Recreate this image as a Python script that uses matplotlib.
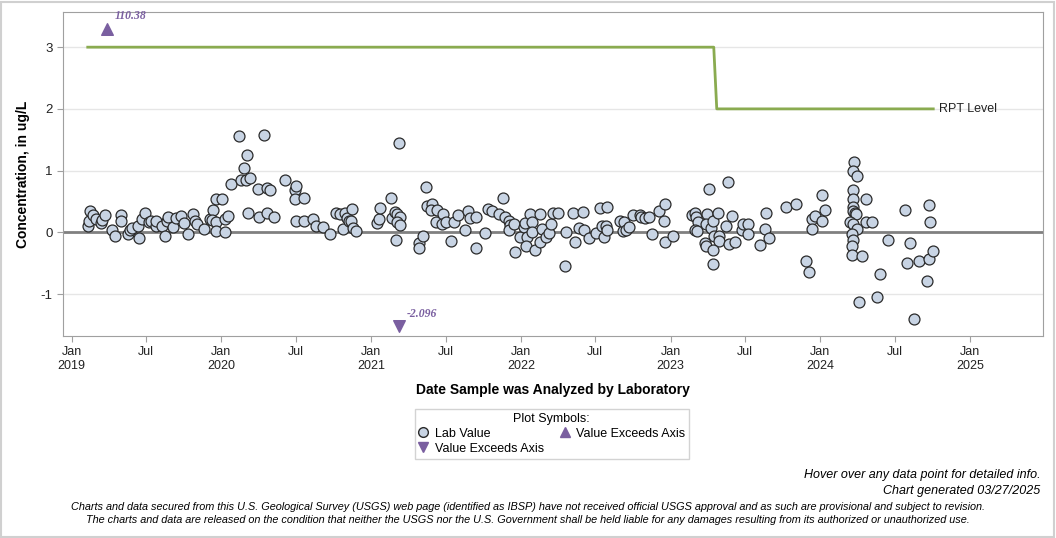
import datetime as dt
import matplotlib
matplotlib.use("Agg")
import matplotlib.pyplot as plt
import matplotlib.dates as mdates
from matplotlib.lines import Line2D
from matplotlib.patches import Rectangle

plt.rcParams['font.family'] = ['Liberation Sans', 'DejaVu Sans']
plt.rcParams['axes.unicode_minus'] = False

# sample dates as decimal years, and lab values (ug/L)
lab_year = [
    2019.109, 2019.122, 2019.115, 2019.142, 2019.160, 2019.198, 2019.202, 2019.222, 2019.267, 2019.289,
    2019.332, 2019.327, 2019.376, 2019.387, 2019.405, 2019.442, 2019.449, 2019.469, 2019.489, 2019.514,
    2019.529, 2019.561, 2019.563, 2019.603, 2019.623, 2019.639, 2019.643, 2019.676, 2019.694, 2019.729,
    2019.749, 2019.774, 2019.810, 2019.823, 2019.836, 2019.883, 2019.926, 2019.943, 2019.936, 2019.963,
    2019.961, 2019.963, 2020.003, 2020.023, 2020.043, 2020.023, 2020.063, 2020.117, 2020.148, 2020.131,
    2020.167, 2020.190, 2020.169, 2020.176, 2020.243, 2020.250, 2020.281, 2020.303, 2020.306, 2020.323,
    2020.350, 2020.424, 2020.490, 2020.500, 2020.493, 2020.497, 2020.553, 2020.553, 2020.613, 2020.631,
    2020.680, 2020.724, 2020.764, 2020.795, 2020.827, 2020.811, 2020.840, 2020.871, 2020.853, 2020.867,
    2020.877, 2020.897, 2021.040, 2021.051, 2021.062, 2021.131, 2021.142, 2021.162, 2021.174, 2021.169,
    2021.184, 2021.191, 2021.174, 2021.194, 2021.318, 2021.318, 2021.345, 2021.365, 2021.376, 2021.407,
    2021.398, 2021.438, 2021.436, 2021.478, 2021.474, 2021.501, 2021.530, 2021.556, 2021.578, 2021.625,
    2021.645, 2021.663, 2021.698, 2021.703, 2021.758, 2021.783, 2021.805, 2021.852, 2021.878, 2021.896,
    2021.919, 2021.930, 2021.919, 2021.957, 2021.959, 2021.992, 2022.023, 2022.030, 2022.041, 2022.037,
    2022.059, 2022.072, 2022.072, 2022.092, 2022.125, 2022.125, 2022.143, 2022.168, 2022.188, 2022.198,
    2022.216, 2022.245, 2022.292, 2022.298, 2022.346, 2022.359, 2022.390, 2022.412, 2022.419, 2022.452,
    2022.502, 2022.531, 2022.542, 2022.553, 2022.573, 2022.566, 2022.573, 2022.664, 2022.679, 2022.686,
    2022.699, 2022.719, 2022.746, 2022.798, 2022.802, 2022.826, 2022.853, 2022.876, 2022.920, 2022.953,
    2022.965, 2022.965, 2023.013, 2023.140, 2023.160, 2023.169, 2023.180, 2023.165, 2023.173, 2023.240,
    2023.236, 2023.256, 2023.267, 2023.280, 2023.313, 2023.291, 2023.322, 2023.322, 2023.231, 2023.236,
    2023.280, 2023.280, 2023.382, 2023.373, 2023.413, 2023.393, 2023.433, 2023.478, 2023.485, 2023.520,
    2023.516, 2023.598, 2023.627, 2023.640, 2023.660, 2023.772, 2023.834, 2023.907, 2023.921, 2023.943,
    2023.941, 2023.961, 2024.008, 2024.014, 2024.028, 2024.226, 2024.221, 2024.244, 2024.221, 2024.221,
    2024.303, 2024.217, 2024.221, 2024.230, 2024.237, 2024.199, 2024.217, 2024.244, 2024.210, 2024.221,
    2024.214, 2024.214, 2024.279, 2024.261, 2024.303, 2024.348, 2024.395, 2024.377, 2024.455, 2024.564,
    2024.581, 2024.601, 2024.624, 2024.662, 2024.715, 2024.728, 2024.728, 2024.735, 2024.751,
]
lab_value = [
    0.11, 0.34, 0.18, 0.28, 0.22, 0.15, 0.20, 0.28, 0.04, -0.06,
    0.28, 0.18, -0.02, 0.03, 0.07, 0.11, -0.09, 0.22, 0.32, 0.16,
    0.18, 0.11, 0.18, 0.10, -0.06, 0.18, 0.24, 0.09, 0.23, 0.26,
    0.15, -0.03, 0.30, 0.19, 0.13, 0.05, 0.22, 0.36, 0.20, 0.17,
    0.54, 0.02, 0.54, 0.21, 0.27, 0.00, 0.79, 1.56, 1.04, 0.85,
    0.85, 0.88, 1.26, 0.32, 0.70, 0.24, 1.57, 0.72, 0.31, 0.68,
    0.25, 0.84, 0.69, 0.75, 0.54, 0.19, 0.56, 0.18, 0.21, 0.11,
    0.08, -0.03, 0.32, 0.30, 0.31, 0.05, 0.23, 0.37, 0.18, 0.18,
    0.07, 0.02, 0.15, 0.22, 0.39, 0.55, 0.23, 0.33, 0.29, -0.12,
    1.44, 0.24, 0.16, 0.12, -0.17, -0.26, -0.06, 0.73, 0.42, 0.46,
    0.36, 0.36, 0.17, 0.30, 0.13, 0.16, -0.14, 0.16, 0.28, 0.03,
    0.34, 0.23, 0.24, -0.26, -0.01, 0.38, 0.35, 0.30, 0.55, 0.24,
    0.19, 0.12, 0.04, 0.13, -0.32, -0.08, 0.09, 0.15, -0.07, -0.23,
    0.30, 0.16, 0.01, -0.29, 0.30, -0.15, 0.05, -0.08, -0.01, 0.13,
    0.31, 0.32, -0.54, 0.00, 0.31, -0.16, 0.07, 0.33, 0.03, -0.09,
    -0.01, 0.39, 0.10, -0.07, 0.41, 0.10, 0.04, 0.18, 0.02, 0.17,
    0.04, 0.08, 0.28, 0.28, 0.24, 0.23, 0.24, -0.03, 0.34, 0.18,
    0.46, -0.16, -0.06, 0.28, 0.31, 0.24, 0.17, 0.04, 0.02, 0.30,
    0.13, 0.70, 0.07, 0.18, 0.31, -0.06, -0.06, -0.14, -0.17, -0.23,
    -0.28, -0.52, 0.82, 0.10, 0.26, -0.19, -0.16, 0.04, 0.13, 0.13,
    -0.03, -0.21, 0.06, 0.31, -0.10, 0.41, 0.46, -0.47, -0.65, 0.22,
    0.06, 0.26, 0.60, 0.19, 0.36, 1.14, 0.99, 0.91, 0.68, 0.54,
    0.54, 0.41, 0.35, 0.31, 0.29, 0.17, 0.13, 0.05, -0.02, -0.12,
    -0.23, -0.36, -0.39, -1.13, 0.17, 0.17, -0.68, -1.05, -0.12, 0.36,
    -0.50, -0.18, -1.41, -0.47, -0.79, -0.43, 0.44, 0.17, -0.30,
]

# values beyond the axis range
over_year, over_value, over_label = [2019.234], [3.30], ['110.38']
under_year, under_value, under_label = [2021.184], [-1.52], ['-2.096']

# reporting level step line
rpt_year = [2019.107, 2023.288, 2023.308, 2024.754]
rpt_value = [3, 3, 2, 2]

BASE = mdates.date2num(dt.datetime(2019, 1, 1))


def to_num(years):
    return [BASE + (y - 2019) * 365.25 for y in years]


fig = plt.figure(figsize=(10.56, 5.38), dpi=100)
ax = fig.add_axes([0.0597, 0.3755, 0.928, 0.6022])

for y in [-1, 1, 2, 3]:
    ax.axhline(y, color='#e6e6e6', lw=1, zorder=0)
ax.axhline(0, color='#808080', lw=2, zorder=1)

ax.plot(to_num(rpt_year), rpt_value, color='#8aab50', lw=2, zorder=2)
ax.text(to_num([rpt_year[-1]])[0] + 15, 2, 'RPT Level', fontsize=9, va='center', ha='left', color='#222222')

ax.scatter(to_num(lab_year), lab_value, s=62, facecolor='#c8d4e4', edgecolor='#2a2a2a', lw=0.9, zorder=3)

ax.scatter(to_num(over_year), over_value, marker='^', s=70, color='#7a5fa0', zorder=3)
ax.scatter(to_num(under_year), under_value, marker='v', s=70, color='#7a5fa0', zorder=3)
for x, v, t in zip(to_num(over_year), over_value, over_label):
    ax.text(x + 20, v + 0.21, t, color='#7a5fa0', fontsize=8.5, fontweight='bold', style='italic',
            family='Liberation Serif', ha='left', va='center')
for x, v, t in zip(to_num(under_year), under_value, under_label):
    ax.text(x + 20, v + 0.2, t, color='#7a5fa0', fontsize=8.5, fontweight='bold', style='italic',
            family='Liberation Serif', ha='left', va='center')

ax.set_xlim(to_num([2018.942])[0], to_num([2025.487])[0])
ax.set_ylim(-1.68, 3.57)
ax.set_yticks([-1, 0, 1, 2, 3])

ticks, labels = [], []
for yr in range(2019, 2026):
    for m in (1, 7):
        if yr == 2025 and m == 7:
            continue
        ticks.append(mdates.date2num(dt.datetime(yr, m, 1)))
        labels.append(f'Jan\n{yr}' if m == 1 else 'Jul')
ax.set_xticks(ticks)
ax.set_xticklabels(labels, fontsize=9, va='top')
ax.tick_params(axis='y', labelsize=9.5)
ax.tick_params(colors='#a0a0a0', labelcolor='#222222', length=4)

for s in ax.spines.values():
    s.set_color('#a0a0a0')

ax.set_ylabel('Concentration, in ug/L', fontsize=10, fontweight='bold', labelpad=8)
ax.set_xlabel('Date Sample was Analyzed by Laboratory', fontsize=10, fontweight='bold', labelpad=8)

handles = [
    Line2D([], [], marker='o', ls='', markerfacecolor='#c8d4e4', markeredgecolor='#2a2a2a', markersize=7),
    Line2D([], [], marker='v', ls='', color='#7a5fa0', markersize=7),
    Line2D([], [], marker='^', ls='', color='#7a5fa0', markersize=7),
]
leg = fig.legend(handles, ['Lab Value', 'Value Exceeds Axis', 'Value Exceeds Axis'],
                 title='Plot Symbols:', ncol=2, loc='center', bbox_to_anchor=(0.5225, 0.194),
                 fontsize=9, title_fontsize=9, frameon=True, fancybox=False,
                 handlelength=0.8, handletextpad=0.5, columnspacing=1.3, labelspacing=0.25,
                 borderpad=0.3)
leg.get_frame().set_edgecolor('#c8c8c8')
leg.get_frame().set_linewidth(1)

fig.text(0.985, 0.118, 'Hover over any data point for detailed info.', ha='right', va='center',
         fontsize=9, style='italic')
fig.text(0.985, 0.088, 'Chart generated 03/27/2025', ha='right', va='center', fontsize=9, style='italic')
fig.text(0.5, 0.057, 'Charts and data secured from this U.S. Geological Survey (USGS) web page (identified as IBSP) '
         'have not received official USGS approval and as such are provisional and subject to revision.',
         ha='center', va='center', fontsize=7.85, style='italic')
fig.text(0.5, 0.033, 'The charts and data are released on the condition that neither the USGS nor the U.S. Government '
         'shall be held liable for any damages resulting from its authorized or unauthorized use.',
         ha='center', va='center', fontsize=7.85, style='italic')

fig.patches.append(Rectangle((0.001, 0.002), 0.997, 0.994, transform=fig.transFigure,
                             fill=False, edgecolor='#d0d0d0', lw=1.5))

fig.savefig('out.png', dpi=100)
